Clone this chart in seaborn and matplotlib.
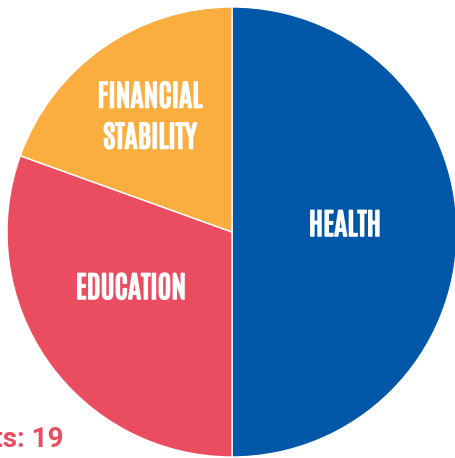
import matplotlib
matplotlib.use("Agg")
import matplotlib.pyplot as plt
import matplotlib.patheffects as pe
import seaborn as sns

categories = ["HEALTH", "EDUCATION", "FINANCIAL\nSTABILITY"]
values = [50.0, 30.5, 19.5]
colors = ["#0057A8", "#EA4C60", "#FAAE40"]
footer = "Total Projects: 19"

sns.set_theme(style="white")
plt.rcParams["font.family"] = ["Antonio", "DejaVu Sans"]

fig = plt.figure(figsize=(4.55, 4.58), dpi=100)
ax = fig.add_axes([7 / 455, 1 / 458, 450 / 455, 450 / 458])
wedges, _ = ax.pie(values, colors=sns.color_palette(colors), startangle=90,
                   counterclock=False, radius=1,
                   wedgeprops=dict(edgecolor="white", linewidth=1))
ax.set_xlim(-1, 1)
ax.set_ylim(-1, 1)
ax.set_aspect("equal")
ax.axis("off")

label_pos = [(0.502, 0.031), (-0.449, -0.249), (-0.364, 0.511)]
for lab, (x, y) in zip(categories, label_pos):
    ax.text(x, y, lab, ha="center", va="center", color="white",
            fontsize=21.5, linespacing=1.42,
            family=["Antonio", "DejaVu Sans"],
            path_effects=[pe.withStroke(linewidth=1.1, foreground="white")])

fig.text(63 / 455, 11 / 458, footer, ha="right", va="baseline",
         color="#EA4C60", fontsize=20, fontweight="bold", family=["Roboto", "DejaVu Sans"])

fig.savefig("out.png", dpi=100)
